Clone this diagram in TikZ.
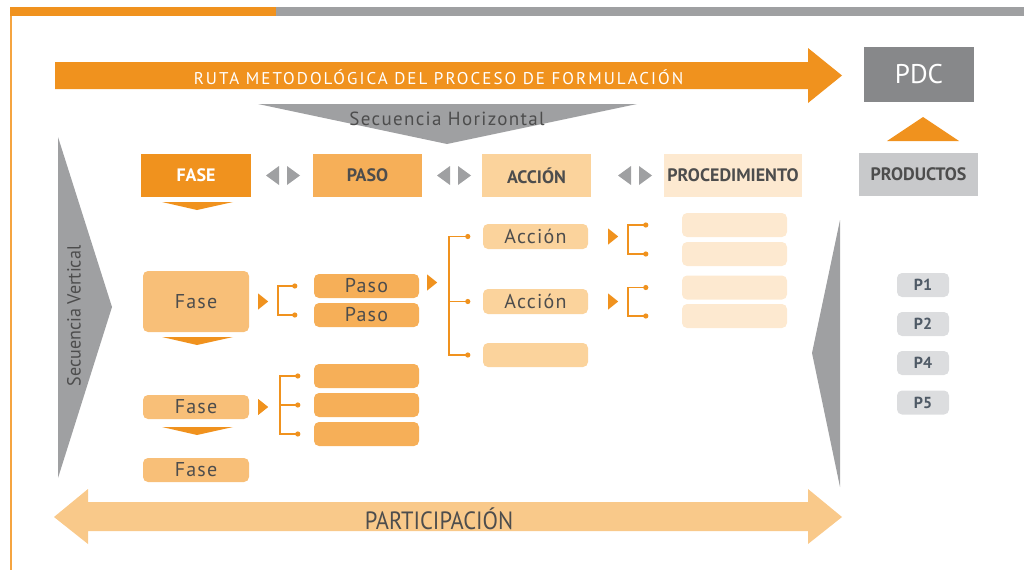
\documentclass[tikz,border=0pt]{standalone}
\usepackage{fontspec}
\setmainfont{PT Sans}
\usetikzlibrary{calc}
\definecolor{orng}{HTML}{F0921E}
\definecolor{orngline}{HTML}{F5A440}
\definecolor{pasoc}{HTML}{F6AF58}
\definecolor{fasec}{HTML}{F8BF78}
\definecolor{accc}{HTML}{FBD39C}
\definecolor{procc}{HTML}{FDE9D0}
\definecolor{partc}{HTML}{F9C98A}
\definecolor{graytri}{HTML}{9FA0A2}
\definecolor{pdcc}{HTML}{87888A}
\definecolor{prodc}{HTML}{C8C9CB}
\definecolor{pc}{HTML}{DCDDDF}
\definecolor{txt}{HTML}{4D4D4D}
\definecolor{ptxt}{HTML}{4F5A66}
\tikzset{
  hbox/.style={rectangle, inner sep=0pt, text=txt, font=\fontsize{18}{18}\selectfont\bfseries},
  rbox/.style={rectangle, rounded corners=5pt, inner sep=0pt, text=txt},
  bigtxt/.style={font=\fontsize{20}{20}\selectfont\addfontfeatures{LetterSpace=6}},
  brk/.style={draw=orng, line width=1.3pt},
  dot/.style={fill=orng},
}
\begin{document}
\begin{tikzpicture}[x=1pt,y=-1pt]
\useasboundingbox (0,0) rectangle (1024,570);
% top bar and left line
\fill[orng] (10,7) rectangle (276,16);
\fill[graytri] (276,7) rectangle (1024,16);
\draw[orngline, line width=1.5pt] (11,16) -- (11,570);
% main arrow
\fill[orng] (55,62) -- (808,62) -- (808,48) -- (842,75.5) -- (808,103) -- (808,89) -- (55,89) -- cycle;
\node[text=white, font=\fontsize{17}{17}\selectfont\addfontfeatures{LetterSpace=12}] (ruta) at (438.5,77) {RUTA METODOLÓGICA DEL PROCESO DE FORMULACIÓN};
% participation arrow
\fill[partc] (54,517) -- (88,489) -- (88,502) -- (808,502) -- (808,489) -- (842,517) -- (808,544) -- (808,531) -- (88,531) -- (88,544) -- cycle;
\node[text=txt, font=\fontsize{25}{25}\selectfont] (part) at (439,519) {\scalebox{0.9}[1]{PARTICIPACIÓN}};
% gray triangles
\fill[graytri] (258,104) -- (637,104) -- (447,144) -- cycle;
\node[text=txt, font=\fontsize{19}{19}\selectfont\addfontfeatures{LetterSpace=7}] (sh) at (447,119) {Secuencia Horizontal};
\fill[graytri] (58,137) -- (112,307) -- (58,478) -- cycle;
\node[text=txt, rotate=90, font=\fontsize{19}{19}\selectfont] (sv) at (74,316) {\scalebox{0.95}[1]{Secuencia Vertical}};
\fill[graytri] (840,220) -- (812,353) -- (840,487) -- cycle;
% PDC / productos
\node[rectangle, fill=pdcc, minimum width=110pt, minimum height=55pt, text=white, font=\fontsize{27}{27}\selectfont] (pdc) at (919,74.5) {PDC};
\fill[orng] (887,141) -- (959,141) -- (923,117) -- cycle;
\node[hbox, fill=prodc, minimum width=119pt, minimum height=43pt] (prod) at (918.5,174.5) {PRODUCTOS};
\foreach \n/\y in {P1/285,P2/324,P4/363,P5/402.5}{
  \node[rbox, fill=pc, minimum width=52pt, minimum height=24pt, text=ptxt, font=\fontsize{16}{16}\selectfont\bfseries] (\n) at (923,\y) {\n};
}
% header row
\node[hbox, fill=orng, text=white, minimum width=110pt, minimum height=43pt] (faseh) at (196,175.5) {FASE};
\node[hbox, fill=pasoc, minimum width=109pt, minimum height=43pt] (pasoh) at (367.5,175.5) {PASO};
\node[hbox, fill=accc, minimum width=109pt, minimum height=43pt] (acch) at (536.5,175.5) {ACCIÓN};
\node[hbox, fill=procc, minimum width=138pt, minimum height=43pt] (proch) at (733,175.5) {PROCEDIMIENTO};
% small gray double triangles
\foreach \xa in {266,437,618}{
  \fill[graytri] (\xa,175.5) -- (\xa+13,166) -- (\xa+13,185) -- cycle;
  \fill[graytri] (\xa+34,175.5) -- (\xa+21,166) -- (\xa+21,185) -- cycle;
}
% chevrons
\foreach \y in {202,337,427}{
  \fill[orng] (162,\y) -- (233,\y) -- (197,\y+8) -- cycle;
}
% fases
\node[rbox, fill=fasec, bigtxt, minimum width=106pt, minimum height=61pt] (fase1) at (196,301.5) {Fase};
\node[rbox, fill=fasec, bigtxt, minimum width=106pt, minimum height=24pt] (fase2) at (196,407) {Fase};
\node[rbox, fill=fasec, bigtxt, minimum width=106pt, minimum height=24pt] (fase3) at (196,470) {Fase};
% pasos
\node[rbox, fill=pasoc, bigtxt, minimum width=105pt, minimum height=24pt] (paso1) at (366.5,286) {Paso};
\node[rbox, fill=pasoc, bigtxt, minimum width=105pt, minimum height=24pt] (paso2) at (366.5,315) {Paso};
\node[rbox, fill=pasoc, minimum width=105pt, minimum height=24pt] (paso3) at (366.5,376) {};
\node[rbox, fill=pasoc, minimum width=105pt, minimum height=24pt] (paso4) at (366.5,405) {};
\node[rbox, fill=pasoc, minimum width=105pt, minimum height=24pt] (paso5) at (366.5,434) {};
% acciones
\node[rbox, fill=accc, bigtxt, minimum width=105pt, minimum height=25pt] (acc1) at (535.5,236.5) {Acción};
\node[rbox, fill=accc, bigtxt, minimum width=105pt, minimum height=25pt] (acc2) at (535.5,301.5) {Acción};
\node[rbox, fill=accc, minimum width=105pt, minimum height=24pt] (acc3) at (535.5,355) {};
% procedimientos
\foreach \n/\y in {proc1/225,proc2/254,proc3/287.5,proc4/316}{
  \node[rbox, fill=procc, minimum width=105pt, minimum height=24pt] (\n) at (734.5,\y) {};
}
% small orange pointers
\fill[orng] ([xshift=9pt,yshift=-8pt]fase1.east) -- ([xshift=9pt,yshift=8pt]fase1.east) -- ([xshift=19pt]fase1.east) -- cycle;
\fill[orng] ([xshift=9pt,yshift=-8pt]fase2.east) -- ([xshift=9pt,yshift=8pt]fase2.east) -- ([xshift=19pt]fase2.east) -- cycle;
\fill[orng] ([xshift=8pt,yshift=-4.5pt]paso1.east) -- ([xshift=8pt,yshift=11.5pt]paso1.east) -- ([xshift=18pt,yshift=3.5pt]paso1.east) -- cycle;
\fill[orng] ([xshift=20pt,yshift=-8pt]acc1.east) -- ([xshift=20pt,yshift=8pt]acc1.east) -- ([xshift=30pt]acc1.east) -- cycle;
\fill[orng] ([xshift=20pt,yshift=-8pt]acc2.east) -- ([xshift=20pt,yshift=8pt]acc2.east) -- ([xshift=30pt]acc2.east) -- cycle;
% brackets
\coordinate (bx1) at (278,0);
\draw[brk] ([xshift=-19pt]paso1.west) -- (bx1 |- paso1.west) -- (bx1 |- paso2.west) -- ([xshift=-19pt]paso2.west);
\foreach \n in {paso1,paso2} \fill[dot] ([xshift=-19pt]\n.west) circle (2.6pt);
\coordinate (bx2) at (280,0);
\draw[brk] ([xshift=-16pt]paso3.west) -- (bx2 |- paso3.west) -- (bx2 |- paso5.west) -- ([xshift=-16pt]paso5.west);
\draw[brk] (bx2 |- paso4.west) -- ([xshift=-16pt]paso4.west);
\foreach \n in {paso3,paso4,paso5} \fill[dot] ([xshift=-16pt]\n.west) circle (2.6pt);
\coordinate (bx3) at (449,0);
\draw[brk] ([xshift=-15pt]acc1.west) -- (bx3 |- acc1.west) -- (bx3 |- acc3.west) -- ([xshift=-15pt]acc3.west);
\draw[brk] (bx3 |- acc2.west) -- ([xshift=-15pt]acc2.west);
\foreach \n in {acc1,acc2,acc3} \fill[dot] ([xshift=-15pt]\n.west) circle (2.6pt);
\coordinate (bx4) at (628,0);
\draw[brk] ([xshift=-36pt]proc1.west) -- (bx4 |- proc1.west) -- (bx4 |- proc2.west) -- ([xshift=-36pt]proc2.west);
\draw[brk] ([xshift=-36pt]proc3.west) -- (bx4 |- proc3.west) -- (bx4 |- proc4.west) -- ([xshift=-36pt]proc4.west);
\foreach \n in {proc1,proc2,proc3,proc4} \fill[dot] ([xshift=-36pt]\n.west) circle (2.6pt);
\end{tikzpicture}
\end{document}
